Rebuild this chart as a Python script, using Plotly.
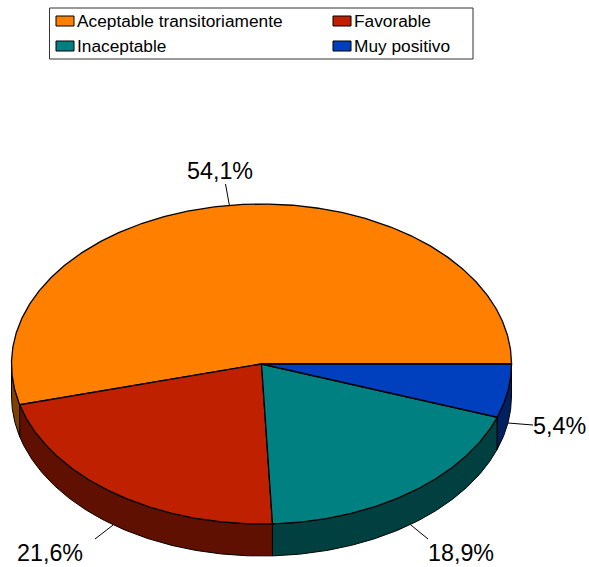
"""Tilted 3D-look pie drawn with filled scatter polygons (Plotly has no 3D pie)."""

import numpy as np
import plotly.graph_objects as go

categories = ["Aceptable transitoriamente", "Favorable", "Inaceptable", "Muy positivo"]
shares = [54.1, 21.6, 18.9, 5.4]
share_labels = ["54,1%", "21,6%", "18,9%", "5,4%"]

top_colors = ["#FF8000", "#BF2000", "#008080", "#0040BF"]
side_colors = ["#804000", "#601000", "#004040", "#002060"]

# pie geometry in page pixels
CX, CY = 261.5, 364
RX, RY = 250, 160
DEPTH = 32

# legend layout: (swatch left, swatch top)
legend_pos = [(56, 16), (333, 16), (56, 41), (333, 41)]
# label centres and leader ends
label_pos = [(219.5, 171), (50, 553), (461, 553), (559, 426)]
leader_ends = [(225.5, 184), (95, 539), (428, 539), (533, 425)]
FONT = "Liberation Sans, Arial, sans-serif"


def rim(a0, a1, dy=0.0):
    t = np.radians(np.linspace(a0, a1, max(int(abs(a1 - a0)) * 2, 2) + 1))
    return CX + RX * np.cos(t), CY - RY * np.sin(t) + dy


edges = np.concatenate([[0], np.cumsum(shares)]) / sum(shares) * 360

fig = go.Figure()

# side walls, only the part facing the viewer (180..360 deg)
for name, col, a0, a1 in zip(categories, side_colors, edges[:-1], edges[1:]):
    lo, hi = max(a0, 180), min(a1, 360)
    if hi <= lo:
        continue
    xt, yt = rim(lo, hi)
    xb, yb = rim(hi, lo, DEPTH)
    fig.add_trace(go.Scatter(
        x=np.concatenate([xt, xb, xt[:1]]), y=np.concatenate([yt, yb, yt[:1]]),
        mode="lines", fill="toself", fillcolor=col,
        line=dict(color="black", width=1), hoverinfo="skip", showlegend=False,
    ))

# top faces
for name, lab, col, a0, a1 in zip(categories, share_labels, top_colors, edges[:-1], edges[1:]):
    xt, yt = rim(a0, a1)
    fig.add_trace(go.Scatter(
        x=np.concatenate([[CX], xt, [CX]]), y=np.concatenate([[CY], yt, [CY]]),
        mode="lines", fill="toself", fillcolor=col,
        line=dict(color="black", width=1.3), name=name, text=lab, hoverinfo="name+text",
        showlegend=False,
    ))

# leader lines start on the rim at the middle of each slice
for i, (a0, a1) in enumerate(zip(edges[:-1], edges[1:])):
    mid = (a0 + a1) / 2
    xs, ys = rim(mid, mid, DEPTH if mid > 180 else 0)
    fig.add_trace(go.Scatter(
        x=[xs[0], leader_ends[i][0]], y=[ys[0], leader_ends[i][1]],
        mode="lines", line=dict(color="black", width=1),
        hoverinfo="skip", showlegend=False,
    ))
    fig.add_annotation(
        x=label_pos[i][0], y=label_pos[i][1], text=share_labels[i], showarrow=False,
        font=dict(family=FONT, size=23.3, color="black"),
        xanchor="center", yanchor="middle",
    )

# hand-built legend, the native one can't do these small swatches
fig.add_shape(type="rect", x0=49.5, x1=473, y0=8, y1=59,
              line=dict(color="#333333", width=1), fillcolor="white")
for name, col, (lx, ly) in zip(categories, top_colors, legend_pos):
    fig.add_shape(type="rect", x0=lx, x1=lx + 18, y0=ly, y1=ly + 10,
                  line=dict(color="black", width=1), fillcolor=col)
    fig.add_annotation(
        x=lx + 19, y=ly + 5, text=name, showarrow=False,
        font=dict(family=FONT, size=17.3, color="black"),
        xanchor="left", yanchor="middle",
    )

fig.update_layout(
    width=589, height=567,
    margin=dict(l=0, r=0, t=0, b=0),
    paper_bgcolor="white", plot_bgcolor="white",
    showlegend=False,
    xaxis=dict(range=[0, 589], visible=False, fixedrange=True),
    yaxis=dict(range=[567, 0], visible=False, fixedrange=True),
)
# the page's default body margin would push the figure 8px off
fig.write_html("out.html", config={"displayModeBar": False},
               post_script="document.body.style.margin='0';document.body.style.overflow='hidden';")
